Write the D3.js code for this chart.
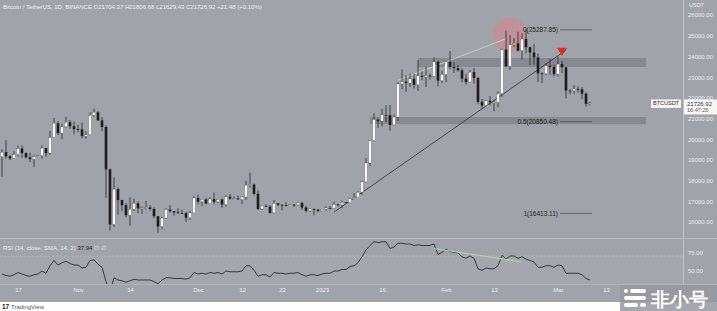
<!DOCTYPE html>
<html>
<head>
<meta charset="utf-8">
<script src="https://cdn.jsdelivr.net/npm/d3@7"></script>
<style>
body { margin: 0; background: #fff; }
text { font-family: "Liberation Sans", Arial, sans-serif; }
</style>
</head>
<body>
<script>
'use strict';

// daily BTC/USDT candles, 13 Oct 2022 .. 9 Mar 2023
let firstDay = new Date(2022, 9, 13);

let opens = [
  19155,19375,19175,19070,19260,19550,19330,19125,19040,19160,19205,19570,19330,20080,20770,20290,20595,20820,20625,
  20490,20480,20150,20210,21150,21300,20910,20590,18540,15880,17590,17060,16810,16330,16620,16900,16660,16690,16700,16630,16280,15780,16190,16600,16520,16460,16440,16430,16210,16440,
  17160,16980,17090,16890,17110,16970,17090,16840,17220,17130,17130,17090,17210,17780,17810,17360,16630,16780,16740,16440,16900,16830,16820,16780,16840,16830,16920,16700,16540,16630,16600,
  16540,16620,16680,16670,16850,16830,16950,16940,17130,17180,17440,17940,18850,19930,20950,20870,21170,21160,20690,21070,22670,22780,22710,22920,22630,23060,23010,23080,23030,23740,22830,
  23130,23730,23490,23430,23330,22930,22760,23240,22960,21800,21630,21860,21780,21780,22200,24330,23520,24570,24630,24280,24840,24440,24190,23950,23180,23160,23550,23490,
  23140,23630,23470,22350,22340,22430,22410,22200,21704
];
let highs = [
  19510,19950,19230,19420,19690,19700,19360,19345,19250,19250,19700,19600,20400,21020,20870,20750,21085,20930,20850,
  20700,20800,20390,21300,21480,21370,21070,20670,18590,18150,17660,17070,16920,17190,17130,17000,16750,17020,16820,16700,16290,16250,16680,16810,16530,16660,16600,16480,16530,17250,
  17320,17110,17160,17200,17420,17110,17140,17300,17350,17230,17270,17240,18000,18390,17850,17530,16800,16860,16820,17060,16910,16870,16950,16870,16860,16940,16970,16780,16660,16650,16630,
  16630,16760,16770,16990,16880,17040,16970,17180,17400,17490,17990,19100,19960,21260,21000,21470,21640,21650,21190,22750,23370,23080,23170,23160,23820,23280,23500,23170,23960,23790,23310,
  23780,24260,23720,23590,23430,23160,23350,23450,23010,21940,21890,22090,21890,22320,24380,25250,25020,24880,25190,25120,25290,24480,24600,24140,23220,23690,23880,23600,
  24000,23770,23480,22410,22610,22550,22530,22270,21807
];
let lows = [
  18190,19070,18990,19060,19160,19100,19070,18900,18650,19140,19070,19160,19250,20060,20200,20000,20560,20510,20240,
  20340,20050,20030,20180,21080,20880,20390,17170,15590,15750,16360,16520,16230,15820,16530,16430,16400,16610,16550,16180,15480,15640,16160,16460,16300,16400,16400,16000,16100,16430,
  16850,16790,16860,16880,16870,16910,16680,16740,17080,17090,17080,16870,17070,17660,17280,16580,16580,16730,16400,16400,16750,16560,16750,16780,16730,16790,16590,16460,16490,16330,16470,
  16500,16550,16600,16660,16750,16670,16910,16910,17100,17160,17310,17910,18710,19890,20550,20620,20830,20410,20660,20880,22420,22290,22530,22460,22330,22850,22520,22880,22980,22550,22710,
  22760,23370,23200,23260,22750,22630,22750,22680,21690,21450,21620,21630,21350,21530,22050,23500,23340,24440,24230,23840,24150,23580,23600,22770,22720,23080,23110,23030,
  23020,23200,21970,22160,22200,22260,21930,21580,21629
];
let closes = [
  19375,19175,19070,19260,19550,19330,19125,19040,19160,19205,19570,19330,20080,20770,20290,20595,20820,20625,20490,
  20480,20150,20210,21150,21300,20910,20590,18540,15880,17590,17060,16810,16330,16620,16900,16660,16690,16700,16630,16280,15780,16190,16600,16520,16460,16440,16430,16210,16440,17160,
  16980,17090,16890,17110,16970,17090,16840,17220,17130,17130,17090,17210,17780,17810,17360,16630,16780,16740,16440,16900,16830,16820,16780,16840,16830,16920,16700,16540,16630,16600,16540,
  16620,16680,16670,16850,16830,16950,16940,17130,17180,17440,17940,18850,19930,20950,20870,21170,21160,20690,21070,22670,22780,22710,22920,22630,23060,23010,23080,23030,23740,22830,23130,
  23730,23490,23430,23330,22930,22760,23240,22960,21800,21630,21860,21780,21780,22200,24330,23520,24570,24630,24280,24840,24440,24190,23950,23180,23160,23550,23490,23140,
  23630,23470,22350,22340,22430,22410,22200,21704,21726.92
];

// RSI(14)
let rsiValues = [
  46,44,43,45,48,46,44,43,45,46,50,47,57,64,58,61,63,60,58,
  58,54,55,64,65,59,55,36,22,41,38,37,35,37,39,38,38,38,38,36,33,38,41,41,40,40,40,39,41,48,
  46,47,46,48,47,48,46,50,49,49,49,50,57,57,51,43,45,45,42,48,47,47,46,47,47,48,45,43,45,45,44,
  46,47,47,50,50,52,52,56,57,61,69,78,84,89,88,89,89,80,82,87,87,86,86,84,85,84,84,84,86,72,75,
  79,76,75,74,69,67,70,67,53,51,54,53,53,57,71,66,70,70,67,69,66,64,62,55,55,57,57,55,
  58,57,47,47,47,47,45,40,37.94
];

let priceTicks = [16000, 17000, 18000, 19000, 20000, 21000, 22000, 23000, 24000, 25000, 26000];
let rsiTicks = [50, 75];
let timeTickDates = [new Date(2022,9,17), new Date(2022,10,1), new Date(2022,10,14), new Date(2022,11,1), new Date(2022,11,12),
  new Date(2022,11,22), new Date(2023,0,1), new Date(2023,0,16), new Date(2023,1,1), new Date(2023,1,13), new Date(2023,2,1), new Date(2023,2,13)];
let timeTickLabels = ['17', 'Nov', '14', 'Dec', '12', '22', '2023', '16', 'Feb', '13', 'Mar', '13'];

// drawings on the chart
let zoneStarts = [new Date(2023,0,25), new Date(2023,0,13)];
let zoneEnd = new Date(2023,2,23);
let zoneLows = [23490, 20730];
let zoneHighs = [23920, 21070];
let fibLabels = ['0', '0.5', '1'];
let fibPrices = [25287.85, 20850.48, 16413.11];
let trendLine = [[new Date(2023,0,4), 16480], [new Date(2023,2,3), 24300]];
let priceDivergence = [[new Date(2023,0,20), 22850], [new Date(2023,1,16), 24850]];
let rsiDivergence = [[new Date(2023,0,29), 80], [new Date(2023,1,20), 62]];
let peakCircle = [new Date(2023,1,17), 25030];
let arrowMark = [new Date(2023,2,2), 24230];

let svgWidth = 717, svgHeight = 311;
let axisX = 683, paneBottom = 238, rsiBottom = 284, timeBottom = 302;
let bg = '#a1a3aa';

let days = closes.map((c, i) => d3.timeDay.offset(firstDay, i));

let xScale = d3.scaleTime()
  .domain([new Date(2022,9,17), new Date(2023,2,13)])
  .range([18, 606]);

let yScale = d3.scaleLinear().domain([16000, 26000]).range([222, 15]);
let rsiScale = d3.scaleLinear().domain([50, 75]).range([271, 252.25]);

let chart = d3.select('body').append('svg')
  .attr('width', svgWidth)
  .attr('height', svgHeight);

chart.append('rect').attr('width', svgWidth).attr('height', timeBottom).attr('fill', bg);
chart.append('rect').attr('y', timeBottom).attr('width', svgWidth).attr('height', svgHeight - timeBottom).attr('fill', '#fdfdfd');

let defs = chart.append('defs');
defs.append('clipPath').attr('id', 'priceClip').append('rect').attr('width', axisX).attr('height', paneBottom);
defs.append('clipPath').attr('id', 'rsiClip').append('rect').attr('y', paneBottom + 1).attr('width', axisX).attr('height', rsiBottom - paneBottom - 1);

let pane = chart.append('g').attr('clip-path', 'url(#priceClip)');

// zones
pane.selectAll('rect.zone').data(zoneLows).enter().append('rect')
  .attr('x', (d, i) => xScale(zoneStarts[i]))
  .attr('width', (d, i) => xScale(zoneEnd) - xScale(zoneStarts[i]))
  .attr('y', (d, i) => yScale(zoneHighs[i]))
  .attr('height', (d, i) => yScale(d) - yScale(zoneHighs[i]))
  .attr('fill', 'rgba(105,107,116,0.45)');

// red circle at the top
pane.append('circle')
  .attr('cx', xScale(peakCircle[0])).attr('cy', yScale(peakCircle[1])).attr('r', 17)
  .attr('fill', 'rgba(226,128,136,0.5)');

let lineGen = d3.line().x(d => xScale(d[0])).y(d => yScale(d[1]));

pane.append('path').datum(priceDivergence).attr('d', lineGen)
  .attr('fill', 'none').attr('stroke', '#a8d9a0').attr('stroke-width', 1.2);

pane.append('path').datum(trendLine).attr('d', lineGen)
  .attr('fill', 'none').attr('stroke', '#2e2e30').attr('stroke-width', 0.8);

// candles
let half = 1.3;
pane.selectAll('line.wick').data(closes).enter().append('line')
  .attr('x1', (d, i) => xScale(days[i])).attr('x2', (d, i) => xScale(days[i]))
  .attr('y1', (d, i) => yScale(highs[i])).attr('y2', (d, i) => yScale(lows[i]))
  .attr('stroke', '#262628').attr('stroke-width', 0.8);

pane.selectAll('rect.body').data(closes).enter().append('rect')
  .attr('x', (d, i) => xScale(days[i]) - half)
  .attr('width', half * 2)
  .attr('y', (d, i) => yScale(Math.max(d, opens[i])))
  .attr('height', (d, i) => Math.max(0.8, Math.abs(yScale(d) - yScale(opens[i]))))
  .attr('fill', (d, i) => d >= opens[i] ? '#f7f7f7' : '#1d1d1f')
  .attr('stroke', (d, i) => d >= opens[i] ? '#55565a' : 'none')
  .attr('stroke-width', 0.3);

// fib levels
let fibEndText = xScale(new Date(2023,2,1));
pane.selectAll('line.fib').data(fibPrices).enter().append('line')
  .attr('x1', fibEndText + 2).attr('x2', xScale(new Date(2023,2,9)) + 2)
  .attr('y1', d => yScale(d)).attr('y2', d => yScale(d))
  .attr('stroke', '#4a4b50').attr('stroke-width', 0.7);
pane.selectAll('text.fib').data(fibPrices).enter().append('text')
  .attr('x', fibEndText).attr('y', d => yScale(d) + 2.2)
  .attr('text-anchor', 'end').attr('font-size', 6.5).attr('fill', '#1f1f22')
  .text((d, i) => fibLabels[i] + '(' + d.toFixed(2) + ')');

// red arrow
let ax = xScale(arrowMark[0]), ay = yScale(arrowMark[1]);
pane.append('path')
  .attr('d', `M${ax - 5},${ay - 4}L${ax + 5},${ay - 4}L${ax},${ay + 4}Z`)
  .attr('fill', '#e32a2a');

// rsi pane
let rsiPane = chart.append('g').attr('clip-path', 'url(#rsiClip)');
rsiPane.append('rect').attr('x', 0).attr('width', axisX)
  .attr('y', rsiScale(70)).attr('height', rsiBottom - rsiScale(70))
  .attr('fill', 'rgba(255,255,255,0.05)');
rsiPane.append('line').attr('x1', 0).attr('x2', axisX)
  .attr('y1', rsiScale(70)).attr('y2', rsiScale(70))
  .attr('stroke', 'rgba(255,255,255,0.25)').attr('stroke-width', 0.6).attr('stroke-dasharray', '2,2');

let rsiLine = d3.line().x((d, i) => xScale(days[i])).y(d => rsiScale(d));
rsiPane.append('path').datum(rsiValues).attr('d', rsiLine)
  .attr('fill', 'none').attr('stroke', '#2c2c30').attr('stroke-width', 0.9);

rsiPane.append('path').datum(rsiDivergence)
  .attr('d', d3.line().x(d => xScale(d[0])).y(d => rsiScale(d[1])))
  .attr('fill', 'none').attr('stroke', '#a8d9a0').attr('stroke-width', 1.2);

// separators
chart.append('line').attr('x1', axisX + 0.5).attr('x2', axisX + 0.5).attr('y1', 0).attr('y2', rsiBottom)
  .attr('stroke', '#c9cbd1').attr('stroke-width', 0.8);
chart.append('line').attr('x1', 0).attr('x2', svgWidth).attr('y1', paneBottom + 0.5).attr('y2', paneBottom + 0.5)
  .attr('stroke', '#b9bbc1').attr('stroke-width', 1);
chart.append('line').attr('x1', 0).attr('x2', svgWidth).attr('y1', rsiBottom + 0.5).attr('y2', rsiBottom + 0.5)
  .attr('stroke', '#b4b6bc').attr('stroke-width', 0.8);

// axes
let priceAxis = chart.append('g')
  .attr('transform', `translate(${axisX},0)`)
  .call(d3.axisRight(yScale).tickValues(priceTicks).tickFormat(d3.format('.2f')).tickSize(0).tickPadding(5));
let rsiAxis = chart.append('g')
  .attr('transform', `translate(${axisX},0)`)
  .call(d3.axisRight(rsiScale).tickValues(rsiTicks).tickFormat(d3.format('.2f')).tickSize(0).tickPadding(5));
let timeAxis = chart.append('g')
  .attr('transform', `translate(0,${rsiBottom})`)
  .call(d3.axisBottom(xScale).tickValues(timeTickDates).tickFormat((d, i) => timeTickLabels[i]).tickSize(0).tickPadding(4));

[priceAxis, rsiAxis, timeAxis].forEach(g => {
  g.select('.domain').remove();
  g.selectAll('text').attr('font-size', 6).attr('fill', '#eceef2').attr('font-family', '"Liberation Sans", Arial, sans-serif');
});

chart.append('text').attr('x', axisX + 6).attr('y', 7).attr('font-size', 5.5).attr('fill', '#eceef2').text('USDT');

// last price labels
let lastY = yScale(closes[closes.length - 1]);
chart.append('rect').attr('x', 651).attr('y', lastY - 4).attr('width', 30).attr('height', 8.5).attr('fill', '#f4f4f4');
chart.append('text').attr('x', 666).attr('y', lastY + 2).attr('text-anchor', 'middle')
  .attr('font-size', 5.5).attr('fill', '#333').text('BTCUSDT');
chart.append('rect').attr('x', axisX + 1).attr('y', lastY - 4).attr('width', 33).attr('height', 15).attr('fill', '#f6f6f6');
chart.append('text').attr('x', axisX + 4).attr('y', lastY + 2.5).attr('font-size', 6).attr('fill', '#333')
  .text(d3.format('.2f')(closes[closes.length - 1]));
chart.append('text').attr('x', axisX + 4).attr('y', lastY + 9).attr('font-size', 5.5).attr('fill', '#555').text('16:47:25');

// titles
chart.append('text').attr('x', 3).attr('y', 9).attr('font-size', 6).attr('fill', '#eef0f4')
  .text('Bitcoin / TetherUS, 1D, BINANCE  O21704.37  H21806.68  L21629.43  C21726.92  +21.48 (+0.10%)');
let rsiTitle = chart.append('text').attr('x', 3).attr('y', 250).attr('font-size', 6);
rsiTitle.append('tspan').attr('fill', '#eef0f4').text('RSI (14, close, SMA, 14, 2) ');
rsiTitle.append('tspan').attr('fill', '#222').text(' ' + rsiValues[rsiValues.length - 1].toFixed(2));
rsiTitle.append('tspan').attr('fill', '#e6e8ec').text('  \u2205  \u2205');

// footer
chart.append('text').attr('x', 2).attr('y', 309).attr('font-size', 6.5).attr('font-weight', 'bold').attr('fill', '#222').text('17');
chart.append('text').attr('x', 11).attr('y', 309).attr('font-size', 6).attr('fill', '#555').text('TradingView');

// watermark
let mark = chart.append('g');
mark.append('rect').attr('x', 620).attr('y', 285).attr('width', 97).attr('height', 26).attr('fill', 'rgba(150,152,160,0.85)');
[[624, 289, 4, 4], [630, 289, 16, 4], [624, 296, 22, 4], [624, 303, 14, 4], [640, 303, 6, 4]].forEach(r => {
  mark.append('rect').attr('x', r[0]).attr('y', r[1]).attr('width', r[2]).attr('height', r[3]).attr('rx', 2).attr('fill', '#fff');
});
mark.append('text').attr('x', 651).attr('y', 306).attr('font-size', 19).attr('font-weight', 'bold')
  .attr('font-family', '"Noto Sans CJK SC", sans-serif').attr('fill', '#fff').text('非小号');
</script>
</body>
</html>
